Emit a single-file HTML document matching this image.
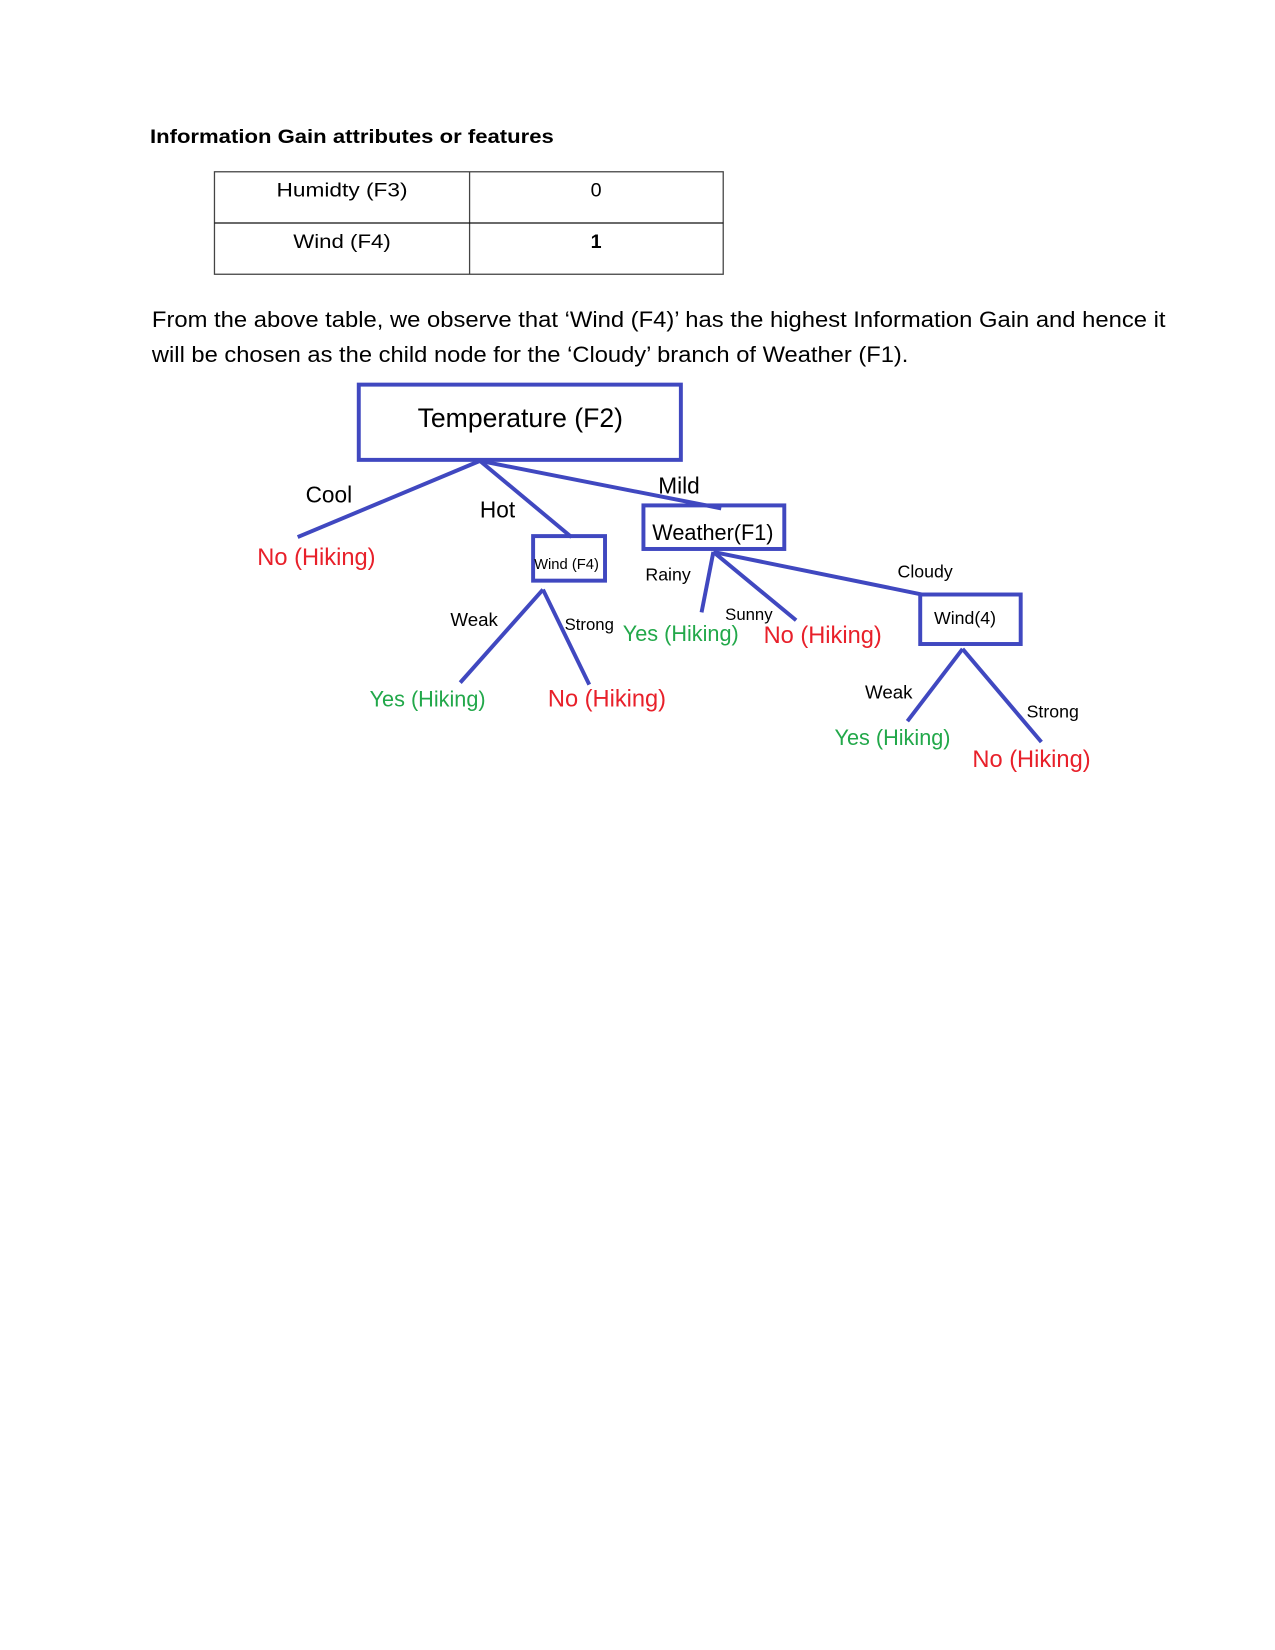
<!DOCTYPE html>
<html><head><meta charset="utf-8"><style>html,body{margin:0;padding:0;background:#fff}svg{display:block}</style></head>
<body>
<svg width="1275" height="1650" xmlns="http://www.w3.org/2000/svg" font-family="Liberation Sans, sans-serif">
<g transform="translate(2.2,1.5) scale(0.985,0.99)">
<text x="150" y="143" font-size="20" font-weight="bold" textLength="410" lengthAdjust="spacingAndGlyphs">Information Gain attributes or features</text>
<g stroke="#444" stroke-width="1.3" fill="none">
<rect x="215.5" y="172" width="516.5" height="103.5"/>
<line x1="474.5" y1="172" x2="474.5" y2="275.5"/>
<line x1="215.5" y1="223.7" x2="732" y2="223.7" stroke="#111"/>
</g>
<text x="345" y="197" font-size="20" text-anchor="middle" textLength="133" lengthAdjust="spacingAndGlyphs">Humidty (F3)</text>
<text x="603" y="197" font-size="20" text-anchor="middle">0</text>
<text x="345" y="249" font-size="20" text-anchor="middle" textLength="99" lengthAdjust="spacingAndGlyphs">Wind (F4)</text>
<text x="603" y="249" font-size="20" font-weight="bold" text-anchor="middle">1</text>
<text x="152" y="329" font-size="22" textLength="1029" lengthAdjust="spacingAndGlyphs">From the above table, we observe that ‘Wind (F4)’ has the highest Information Gain and hence it</text>
<text x="152" y="364" font-size="22" textLength="768" lengthAdjust="spacingAndGlyphs">will be chosen as the child node for the ‘Cloudy’ branch of Weather (F1).</text>
<g stroke="#4048c0" stroke-width="4" fill="none">
<rect x="362" y="387" width="327" height="76"/>
<rect x="539" y="540" width="73" height="45"/>
<rect x="651" y="509" width="143" height="44"/>
<rect x="932" y="599" width="102" height="50"/>
<line x1="485" y1="464" x2="300" y2="541"/>
<line x1="485" y1="464" x2="578" y2="541"/>
<line x1="485" y1="464" x2="730" y2="512"/>
<line x1="549" y1="594" x2="465" y2="688"/>
<line x1="549" y1="594" x2="596" y2="690"/>
<line x1="722" y1="556" x2="710" y2="617"/>
<line x1="722" y1="556" x2="806" y2="625"/>
<line x1="722" y1="556" x2="934" y2="599"/>
<line x1="975" y1="654" x2="919" y2="727"/>
<line x1="975" y1="654" x2="1055" y2="748"/>
</g>
<text x="526" y="430" font-size="27" text-anchor="middle">Temperature (F2)</text>
<text x="308" y="506" font-size="23">Cool</text>
<text x="485" y="521" font-size="23">Hot</text>
<text x="666" y="497" font-size="23">Mild</text>
<text x="259" y="569" font-size="24" fill="#e8202a">No (Hiking)</text>
<text x="540" y="573" font-size="15">Wind (F4)</text>
<text x="660" y="544" font-size="22">Weather(F1)</text>
<text x="455" y="631" font-size="19">Weak</text>
<text x="571" y="635" font-size="17">Strong</text>
<text x="373" y="712" font-size="22" fill="#22a84a">Yes (Hiking)</text>
<text x="554" y="712" font-size="24" fill="#e8202a">No (Hiking)</text>
<text x="653" y="585" font-size="18">Rainy</text>
<text x="734" y="625" font-size="17">Sunny</text>
<text x="909" y="582" font-size="18">Cloudy</text>
<text x="630" y="646" font-size="22" fill="#22a84a">Yes (Hiking)</text>
<text x="773" y="648" font-size="24" fill="#e8202a">No (Hiking)</text>
<text x="946" y="629" font-size="18">Wind(4)</text>
<text x="876" y="704" font-size="19">Weak</text>
<text x="1040" y="723" font-size="18">Strong</text>
<text x="845" y="751" font-size="22" fill="#22a84a">Yes (Hiking)</text>
<text x="985" y="773" font-size="24" fill="#e8202a">No (Hiking)</text>
</g>
</svg>
</body></html>
